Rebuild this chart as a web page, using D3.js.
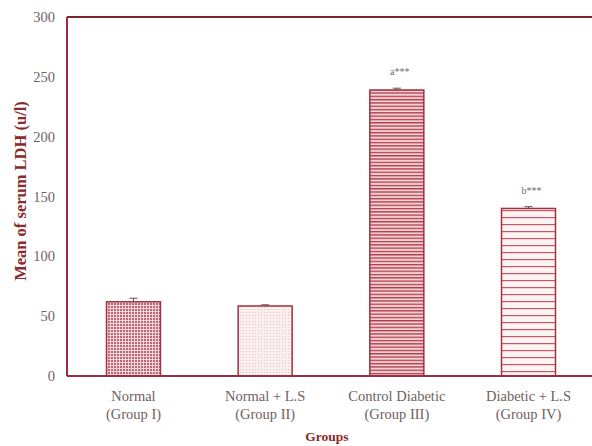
<!DOCTYPE html>
<html>
<head>
<meta charset="utf-8">
<script src="https://cdn.jsdelivr.net/npm/d3@7"></script>
<style>
  body { margin: 0; background: #fff; }
  svg { display: block; }
  text { font-family: "Liberation Serif", "DejaVu Serif", serif; }
</style>
</head>
<body>
<svg id="chart" width="592" height="446"></svg>
<script>
// Serum LDH by experimental group
const groups = ["Normal|(Group I)", "Normal + L.S|(Group II)", "Control Diabetic|(Group III)", "Diabetic + L.S|(Group IV)"];
const means = [62, 58.5, 239, 140];
const errors = [3, 1, 1.5, 1.5];
const marks = ["", "", "a***", "b***"];
const yTicks = [0, 50, 100, 150, 200, 250, 300];

const svg = d3.select("#chart");
const plotLeft = 67, plotRight = 595, plotTop = 17, plotBottom = 376;

const x = d3.scaleBand().domain(groups).range([plotLeft, plotRight]).paddingInner(0.59).paddingOuter(0.3);
const y = d3.scaleLinear().domain([0, 300]).range([plotBottom, plotTop]);

// Fill patterns for each bar
const defs = svg.append("defs");
const p1 = defs.append("pattern").attr("id", "pat0").attr("patternUnits", "userSpaceOnUse").attr("width", 3).attr("height", 3);
p1.append("rect").attr("width", 3).attr("height", 3).attr("fill", "#f2d6d6");
p1.append("rect").attr("width", 2).attr("height", 2).attr("fill", "#b9687a");

const p2 = defs.append("pattern").attr("id", "pat1").attr("patternUnits", "userSpaceOnUse").attr("width", 3).attr("height", 3);
p2.append("rect").attr("width", 3).attr("height", 3).attr("fill", "#fbeeee");
p2.append("rect").attr("width", 1).attr("height", 1).attr("fill", "#e8c2c2");

const p3 = defs.append("pattern").attr("id", "pat2").attr("patternUnits", "userSpaceOnUse").attr("width", 4).attr("height", 3.3);
p3.append("rect").attr("width", 4).attr("height", 3.3).attr("fill", "#f3d2d2");
p3.append("rect").attr("y", 0).attr("width", 4).attr("height", 1.3).attr("fill", "#b23a4c");

const p4 = defs.append("pattern").attr("id", "pat3").attr("patternUnits", "userSpaceOnUse").attr("width", 4).attr("height", 7);
p4.append("rect").attr("width", 4).attr("height", 7).attr("fill", "#fdf3f3");
p4.append("rect").attr("y", 0).attr("width", 4).attr("height", 1.2).attr("fill", "#c2586a");

// Bars
svg.selectAll("rect.bar").data(groups).join("rect")
  .attr("class", "bar")
  .attr("x", d => x(d))
  .attr("width", x.bandwidth())
  .attr("y", (d, i) => y(means[i]))
  .attr("height", (d, i) => y(0) - y(means[i]))
  .attr("fill", (d, i) => `url(#pat${i})`)
  .attr("stroke", "#a3303f")
  .attr("stroke-width", 1.5);

// Error bars
groups.forEach((g, i) => {
  const cx = x(g) + x.bandwidth() / 2;
  svg.append("line").attr("x1", cx).attr("x2", cx)
    .attr("y1", y(means[i])).attr("y2", y(means[i] + errors[i]))
    .attr("stroke", "#6a4a4a").attr("stroke-width", 1);
  svg.append("line").attr("x1", cx - 4).attr("x2", cx + 4)
    .attr("y1", y(means[i] + errors[i])).attr("y2", y(means[i] + errors[i]))
    .attr("stroke", "#6a4a4a").attr("stroke-width", 1);
  if (marks[i]) {
    svg.append("text").attr("x", cx + 3).attr("y", y(means[i] + errors[i]) - 13)
      .attr("text-anchor", "middle").attr("font-size", 10).attr("fill", "#7a6a6a")
      .text(marks[i]);
  }
});

// Axes
const yAxis = svg.append("g").attr("transform", `translate(${plotLeft},0)`)
  .call(d3.axisLeft(y).tickValues(yTicks).tickSize(0).tickPadding(12));
yAxis.select(".domain").remove();
yAxis.selectAll("text").attr("font-size", 14.5).attr("fill", "#6e6262")
  .style("font-family", "'Liberation Serif', serif");

const xAxis = svg.append("g").attr("transform", `translate(0,${plotBottom})`)
  .call(d3.axisBottom(x).tickSize(0).tickPadding(14).tickFormat(""));
xAxis.select(".domain").remove();
xAxis.selectAll(".tick").each(function(d) {
  const parts = d.split("|");
  const t = d3.select(this).append("text").attr("fill", "#6e6262").attr("font-size", 14.5)
    .attr("text-anchor", "middle").attr("y", 25);
  t.append("tspan").attr("x", 0).text(parts[0]);
  t.append("tspan").attr("x", 0).attr("dy", 18).text(parts[1]);
});

// Frame lines
svg.append("line").attr("x1", plotLeft).attr("x2", 592).attr("y1", plotTop).attr("y2", plotTop)
  .attr("stroke", "#7c2436").attr("stroke-width", 2);
svg.append("line").attr("x1", plotLeft).attr("x2", plotLeft).attr("y1", plotTop).attr("y2", plotBottom)
  .attr("stroke", "#9c2e40").attr("stroke-width", 2);
svg.append("line").attr("x1", plotLeft).attr("x2", 592).attr("y1", plotBottom).attr("y2", plotBottom)
  .attr("stroke", "#9c2e40").attr("stroke-width", 2);

// Axis titles
svg.append("text").attr("transform", "translate(26,191) rotate(-90)")
  .attr("text-anchor", "middle").attr("font-size", 16.5).attr("font-weight", "bold")
  .attr("fill", "#8a2a2a").text("Mean of serum LDH (u/l)");
svg.append("text").attr("x", 327).attr("y", 441)
  .attr("text-anchor", "middle").attr("font-size", 13.5).attr("font-weight", "bold")
  .attr("fill", "#8a2a2a").text("Groups");
</script>
</body>
</html>
